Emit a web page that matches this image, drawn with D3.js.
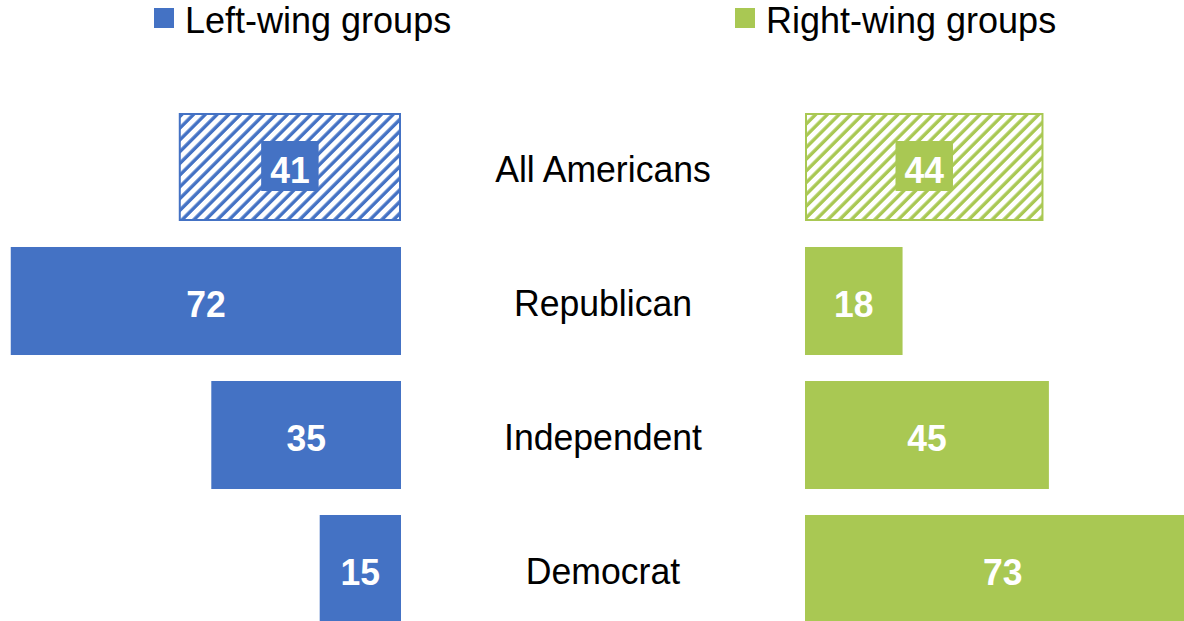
<!DOCTYPE html>
<html lang="en">
<head>
  <meta charset="UTF-8">
  <title>Left-wing vs right-wing groups</title>
  <script src="https://cdn.jsdelivr.net/npm/d3@7"></script>
  <style>
    body { margin: 0; background: #fff; }
    text { font-family: Arial, "Liberation Sans", sans-serif; }
    .legend-text { font-size: 36px; fill: #000; }
    .cat-label { font-size: 35.6px; fill: #000; }
    .value-label { font-size: 35.5px; font-weight: bold; fill: #fff; }
  </style>
</head>
<body>
  <div id="container"></div>

  <script>
    const categories = ["All Americans", "Republican", "Independent", "Democrat"];
    const leftValues = [41, 72, 35, 15];
    const rightValues = [44, 18, 45, 73];
    const seriesNames = ["Left-wing groups", "Right-wing groups"];
    const hatched = [true, false, false, false];

    // Set colors
    const blue = "#4472C4";
    const green = "#A9C853";

    const width = 1184;
    const height = 621;
    const leftEdge = 401;   // where left bars end (they grow leftwards)
    const rightEdge = 805;  // where right bars start
    const centerX = 603;
    const stretch = 1.05;   // text in the original is a bit taller than wide

    const svg = d3.select("#container")
      .append("svg")
      .attr("width", width)
      .attr("height", height);

    // hatch patterns
    const hp = 8.3;
    const defs = svg.append("defs");
    [["hatch-left", blue], ["hatch-right", green]].forEach(([id, c]) => {
      const p = defs.append("pattern")
        .attr("id", id)
        .attr("patternUnits", "userSpaceOnUse")
        .attr("width", hp)
        .attr("height", hp)
        .attr("patternTransform", "rotate(45)");
      p.append("rect").attr("width", hp).attr("height", hp).attr("fill", "#fff");
      p.append("line")
        .attr("x1", 2).attr("x2", 2)
        .attr("y1", 0).attr("y2", hp)
        .attr("stroke", c)
        .attr("stroke-width", 3.4);
    });

    // Scales
    const xScale = d3.scaleLinear().domain([0, 100]).range([0, 542]);
    const yScale = d3.scaleBand()
      .domain(categories)
      .range([100, 636])
      .paddingInner(0.194)
      .paddingOuter(0.097);

    const rows = categories.map((c, i) => ({
      cat: c, left: leftValues[i], right: rightValues[i], hatched: hatched[i]
    }));

    // Left bars
    svg.selectAll(".bar-left")
      .data(rows)
      .enter()
      .append("rect")
      .attr("class", "bar-left")
      .attr("x", d => leftEdge - xScale(d.left) + (d.hatched ? 1 : 0))
      .attr("y", d => yScale(d.cat) + (d.hatched ? 1 : 0))
      .attr("width", d => xScale(d.left) - (d.hatched ? 2 : 0))
      .attr("height", d => yScale.bandwidth() - (d.hatched ? 2 : 0))
      .attr("fill", d => d.hatched ? "url(#hatch-left)" : blue)
      .attr("stroke", d => d.hatched ? blue : "none")
      .attr("stroke-width", 2);

    // Right bars
    svg.selectAll(".bar-right")
      .data(rows)
      .enter()
      .append("rect")
      .attr("class", "bar-right")
      .attr("x", d => rightEdge + (d.hatched ? 1 : 0))
      .attr("y", d => yScale(d.cat) + (d.hatched ? 1 : 0))
      .attr("width", d => xScale(d.right) - (d.hatched ? 2 : 0))
      .attr("height", d => yScale.bandwidth() - (d.hatched ? 2 : 0))
      .attr("fill", d => d.hatched ? "url(#hatch-right)" : green)
      .attr("stroke", d => d.hatched ? green : "none")
      .attr("stroke-width", 2);

    // Value labels (with a solid box behind them on hatched bars)
    function addLabels(side, color) {
      rows.forEach(d => {
        const v = d[side];
        const cx = side === "left"
          ? leftEdge - xScale(v) / 2
          : rightEdge + xScale(v) / 2;
        const cy = yScale(d.cat) + yScale.bandwidth() / 2;
        const g = svg.append("g");
        const t = g.append("text")
          .attr("class", "value-label")
          .attr("transform", `translate(${cx},${cy + 15.5}) scale(1,${stretch})`)
          .attr("text-anchor", "middle")
          .text(v);
        if (d.hatched) {
          const bw = t.node().getComputedTextLength() + 18;
          g.insert("rect", "text")
            .attr("x", cx - bw / 2)
            .attr("y", cy - 26)
            .attr("width", bw)
            .attr("height", 50)
            .attr("fill", color);
        }
      });
    }
    addLabels("left", blue);
    addLabels("right", green);

    // Category labels
    svg.selectAll(".cat-label")
      .data(categories)
      .enter()
      .append("text")
      .attr("class", "cat-label")
      .attr("transform", d => `translate(${centerX},${yScale(d) + yScale.bandwidth() / 2 + 15}) scale(1,${stretch})`)
      .attr("text-anchor", "middle")
      .text(d => d);

    // Legend
    const legend = svg.append("g").attr("class", "legend");
    [[154, blue, seriesNames[0]], [735, green, seriesNames[1]]].forEach(([x, c, name]) => {
      legend.append("rect")
        .attr("x", x)
        .attr("y", 8)
        .attr("width", 20)
        .attr("height", 20)
        .attr("fill", c);
      legend.append("text")
        .attr("x", x + 31)
        .attr("y", 33)
        .attr("class", "legend-text")
        .text(name);
    });
  </script>
</body>
</html>
